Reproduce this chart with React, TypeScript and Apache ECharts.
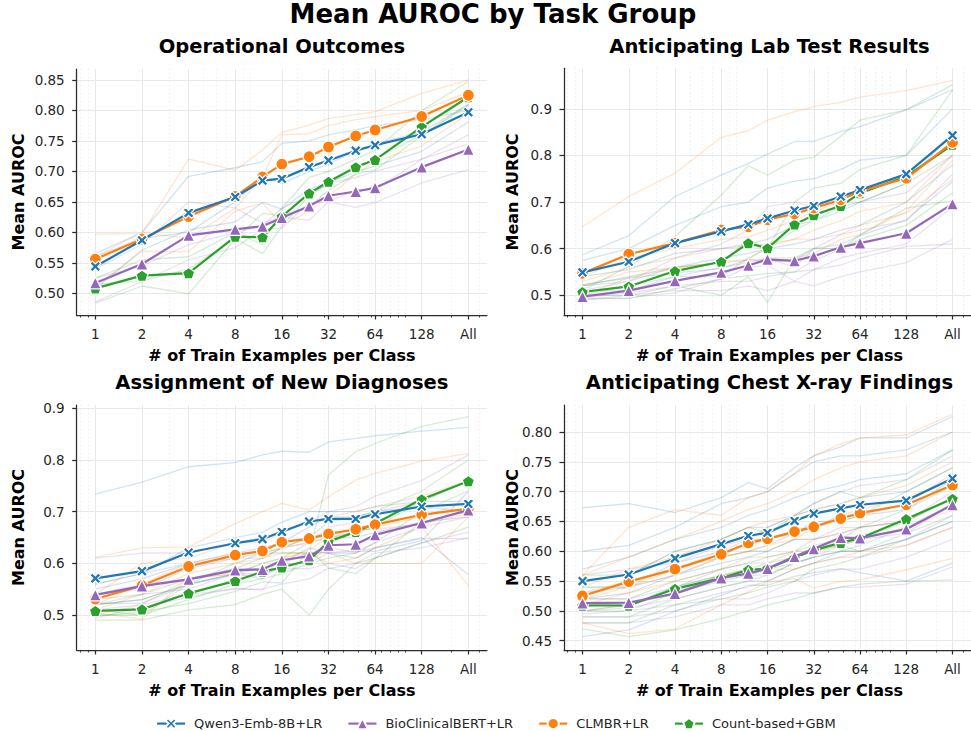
import React, { useEffect, useRef } from 'react';
import * as echarts from 'echarts';

// ---------- x axis (log2 positions; 256 is plotted as "All") ----------
const shots = [1, 2, 4, 8, 12, 16, 24, 32, 48, 64, 128, 256];
const tickShots = [1, 2, 4, 8, 16, 32, 64, 128, 256];
const tickLabels = ['1', '2', '4', '8', '16', '32', '64', '128', 'All'];
const minorShots = [0.8, 0.9, 3, 5, 6, 7, 9, 10, 20, 30, 40, 50, 60, 70, 80, 90, 100, 200, 300];

const models = ['Qwen3-Emb-8B+LR', 'BioClinicalBERT+LR', 'CLMBR+LR', 'Count-based+GBM'];
const modelColors = ['#1f77b4', '#9467bd', '#ff7f0e', '#2ca02c'];

const panelTitles = [
  'Operational Outcomes',
  'Anticipating Lab Test Results',
  'Assignment of New Diagnoses',
  'Anticipating Chest X-ray Findings',
];

// ---------- y ticks ----------
const opYTicks = [0.5, 0.55, 0.6, 0.65, 0.7, 0.75, 0.8, 0.85];
const labYTicks = [0.5, 0.6, 0.7, 0.8, 0.9];
const diagYTicks = [0.5, 0.6, 0.7, 0.8, 0.9];
const cxrYTicks = [0.45, 0.5, 0.55, 0.6, 0.65, 0.7, 0.75, 0.8];

// ---------- Operational Outcomes ----------
const opQwen = [0.544, 0.587, 0.632, 0.658, 0.685, 0.688, 0.707, 0.718, 0.734, 0.743, 0.761, 0.797];
const opBio = [0.517, 0.548, 0.595, 0.605, 0.610, 0.624, 0.643, 0.660, 0.667, 0.673, 0.707, 0.736];
const opClmbr = [0.556, 0.589, 0.626, 0.659, 0.691, 0.712, 0.724, 0.740, 0.758, 0.768, 0.790, 0.825];
const opCount = [0.508, 0.529, 0.533, 0.593, 0.592, 0.626, 0.664, 0.683, 0.707, 0.719, 0.773, 0.822];

const opQwenTasks = [
  [0.565, 0.600, 0.692, 0.706, 0.716, 0.746, 0.750, 0.760, 0.768, 0.775, 0.785, 0.800],
  [0.560, 0.590, 0.600, 0.650, 0.690, 0.680, 0.700, 0.712, 0.735, 0.745, 0.765, 0.810],
  [0.507, 0.571, 0.604, 0.617, 0.649, 0.638, 0.671, 0.682, 0.699, 0.709, 0.733, 0.781],
];
const opBioTasks = [
  [0.540, 0.580, 0.650, 0.640, 0.615, 0.625, 0.620, 0.650, 0.670, 0.670, 0.720, 0.760],
  [0.525, 0.545, 0.580, 0.600, 0.610, 0.640, 0.660, 0.680, 0.690, 0.700, 0.720, 0.745],
  [0.486, 0.519, 0.555, 0.575, 0.605, 0.607, 0.649, 0.650, 0.641, 0.649, 0.681, 0.703],
];
const opClmbrTasks = [
  [0.597, 0.598, 0.720, 0.702, 0.735, 0.764, 0.776, 0.787, 0.793, 0.798, 0.828, 0.850],
  [0.560, 0.600, 0.590, 0.640, 0.690, 0.760, 0.762, 0.775, 0.785, 0.790, 0.800, 0.830],
  [0.511, 0.569, 0.568, 0.635, 0.648, 0.612, 0.634, 0.658, 0.696, 0.716, 0.742, 0.795],
];
const opCountTasks = [
  [0.525, 0.555, 0.560, 0.600, 0.580, 0.640, 0.690, 0.700, 0.720, 0.735, 0.800, 0.848],
  [0.515, 0.520, 0.540, 0.590, 0.565, 0.610, 0.660, 0.680, 0.705, 0.720, 0.760, 0.810],
  [0.484, 0.512, 0.499, 0.589, 0.631, 0.628, 0.642, 0.669, 0.696, 0.702, 0.759, 0.808],
];

// ---------- Anticipating Lab Test Results ----------
const labQwen = [0.549, 0.572, 0.612, 0.637, 0.652, 0.665, 0.682, 0.692, 0.712, 0.726, 0.760, 0.843];
const labBio = [0.497, 0.510, 0.531, 0.549, 0.564, 0.577, 0.574, 0.584, 0.603, 0.612, 0.633, 0.696];
const labClmbr = [0.547, 0.588, 0.612, 0.640, 0.647, 0.662, 0.675, 0.687, 0.705, 0.723, 0.751, 0.828];
const labCount = [0.507, 0.519, 0.552, 0.572, 0.612, 0.601, 0.652, 0.672, 0.692, 0.719, 0.755, 0.823];

const labQwenTasks = [
  [0.587, 0.628, 0.712, 0.758, 0.783, 0.803, 0.830, 0.830, 0.851, 0.862, 0.898, 0.941],
  [0.575, 0.600, 0.650, 0.690, 0.700, 0.730, 0.745, 0.750, 0.770, 0.790, 0.800, 0.900],
  [0.540, 0.555, 0.590, 0.600, 0.610, 0.620, 0.650, 0.660, 0.690, 0.700, 0.740, 0.850],
  [0.520, 0.540, 0.560, 0.580, 0.590, 0.600, 0.610, 0.620, 0.640, 0.650, 0.700, 0.780],
  [0.523, 0.537, 0.548, 0.557, 0.577, 0.572, 0.575, 0.600, 0.609, 0.628, 0.662, 0.744],
];
const labBioTasks = [
  [0.510, 0.530, 0.580, 0.610, 0.640, 0.690, 0.700, 0.690, 0.700, 0.700, 0.720, 0.800],
  [0.500, 0.520, 0.540, 0.560, 0.570, 0.580, 0.560, 0.600, 0.630, 0.640, 0.660, 0.760],
  [0.495, 0.505, 0.520, 0.530, 0.530, 0.540, 0.550, 0.555, 0.580, 0.590, 0.610, 0.690],
  [0.490, 0.500, 0.510, 0.510, 0.520, 0.510, 0.530, 0.520, 0.540, 0.550, 0.570, 0.620],
  [0.490, 0.495, 0.505, 0.535, 0.560, 0.565, 0.530, 0.555, 0.565, 0.580, 0.605, 0.610],
];
const labClmbrTasks = [
  [0.647, 0.712, 0.762, 0.839, 0.853, 0.876, 0.894, 0.905, 0.914, 0.925, 0.939, 0.961],
  [0.540, 0.580, 0.600, 0.620, 0.625, 0.640, 0.660, 0.680, 0.700, 0.730, 0.760, 0.840],
  [0.530, 0.560, 0.580, 0.600, 0.605, 0.610, 0.620, 0.640, 0.660, 0.680, 0.700, 0.800],
  [0.520, 0.550, 0.560, 0.570, 0.575, 0.580, 0.580, 0.590, 0.620, 0.630, 0.680, 0.790],
  [0.498, 0.538, 0.558, 0.571, 0.577, 0.604, 0.621, 0.620, 0.631, 0.650, 0.676, 0.749],
];
const labCountTasks = [
  [0.511, 0.562, 0.626, 0.715, 0.778, 0.758, 0.790, 0.796, 0.841, 0.876, 0.898, 0.952],
  [0.520, 0.530, 0.560, 0.570, 0.620, 0.600, 0.700, 0.730, 0.740, 0.770, 0.800, 0.940],
  [0.510, 0.510, 0.540, 0.540, 0.580, 0.600, 0.640, 0.660, 0.680, 0.700, 0.740, 0.800],
  [0.500, 0.500, 0.520, 0.500, 0.540, 0.485, 0.580, 0.600, 0.600, 0.620, 0.650, 0.720],
  [0.494, 0.493, 0.514, 0.535, 0.542, 0.547, 0.550, 0.574, 0.599, 0.629, 0.687, 0.703],
];

// ---------- Assignment of New Diagnoses ----------
const diagQwen = [0.571, 0.585, 0.621, 0.639, 0.647, 0.661, 0.681, 0.686, 0.686, 0.695, 0.710, 0.715];
const diagBio = [0.539, 0.556, 0.569, 0.587, 0.588, 0.606, 0.614, 0.635, 0.637, 0.655, 0.678, 0.703];
const diagClmbr = [0.531, 0.557, 0.594, 0.616, 0.624, 0.641, 0.648, 0.657, 0.666, 0.675, 0.694, 0.706];
const diagCount = [0.508, 0.511, 0.542, 0.566, 0.584, 0.592, 0.606, 0.642, 0.661, 0.677, 0.724, 0.759];

const diagQwenTasks = [
  [0.734, 0.757, 0.787, 0.795, 0.810, 0.817, 0.815, 0.835, 0.842, 0.847, 0.856, 0.863],
  [0.560, 0.580, 0.630, 0.650, 0.660, 0.680, 0.700, 0.700, 0.700, 0.710, 0.720, 0.720],
  [0.550, 0.570, 0.600, 0.620, 0.630, 0.640, 0.670, 0.690, 0.690, 0.700, 0.710, 0.700],
  [0.540, 0.550, 0.590, 0.610, 0.620, 0.630, 0.650, 0.650, 0.650, 0.660, 0.680, 0.690],
  [0.520, 0.530, 0.560, 0.580, 0.570, 0.600, 0.630, 0.620, 0.610, 0.630, 0.650, 0.578],
  [0.522, 0.523, 0.559, 0.579, 0.592, 0.599, 0.621, 0.621, 0.624, 0.623, 0.644, 0.739],
];
const diagBioTasks = [
  [0.610, 0.620, 0.620, 0.640, 0.650, 0.660, 0.680, 0.700, 0.710, 0.730, 0.760, 0.810],
  [0.560, 0.580, 0.600, 0.610, 0.610, 0.630, 0.640, 0.670, 0.680, 0.700, 0.720, 0.760],
  [0.540, 0.560, 0.570, 0.590, 0.590, 0.600, 0.600, 0.620, 0.620, 0.640, 0.670, 0.690],
  [0.520, 0.540, 0.550, 0.580, 0.580, 0.590, 0.590, 0.600, 0.590, 0.610, 0.640, 0.660],
  [0.510, 0.520, 0.540, 0.550, 0.550, 0.560, 0.570, 0.590, 0.600, 0.620, 0.630, 0.650],
  [0.494, 0.516, 0.534, 0.552, 0.548, 0.596, 0.604, 0.630, 0.622, 0.630, 0.648, 0.648],
];
const diagClmbrTasks = [
  [0.612, 0.630, 0.632, 0.677, 0.700, 0.716, 0.703, 0.729, 0.761, 0.774, 0.798, 0.813],
  [0.540, 0.600, 0.610, 0.640, 0.640, 0.660, 0.680, 0.690, 0.700, 0.710, 0.730, 0.760],
  [0.520, 0.560, 0.600, 0.620, 0.620, 0.630, 0.640, 0.650, 0.660, 0.670, 0.690, 0.720],
  [0.510, 0.540, 0.580, 0.600, 0.610, 0.620, 0.620, 0.620, 0.600, 0.600, 0.600, 0.690],
  [0.500, 0.520, 0.570, 0.580, 0.600, 0.610, 0.620, 0.600, 0.610, 0.630, 0.670, 0.557],
  [0.504, 0.492, 0.572, 0.579, 0.574, 0.610, 0.625, 0.653, 0.665, 0.666, 0.676, 0.696],
];
const diagCountTasks = [
  [0.520, 0.530, 0.560, 0.600, 0.620, 0.620, 0.620, 0.771, 0.816, 0.832, 0.865, 0.884],
  [0.530, 0.540, 0.570, 0.590, 0.610, 0.630, 0.650, 0.680, 0.690, 0.700, 0.740, 0.800],
  [0.510, 0.500, 0.560, 0.580, 0.600, 0.610, 0.640, 0.650, 0.660, 0.670, 0.720, 0.760],
  [0.500, 0.500, 0.530, 0.560, 0.570, 0.580, 0.600, 0.610, 0.620, 0.640, 0.700, 0.740],
  [0.490, 0.490, 0.510, 0.520, 0.540, 0.550, 0.500, 0.550, 0.600, 0.610, 0.680, 0.700],
  [0.498, 0.506, 0.522, 0.546, 0.564, 0.562, 0.626, 0.591, 0.580, 0.610, 0.639, 0.670],
];

// ---------- Anticipating Chest X-ray Findings ----------
const cxrQwen = [0.550, 0.561, 0.588, 0.612, 0.626, 0.631, 0.651, 0.663, 0.672, 0.678, 0.685, 0.722];
const cxrBio = [0.513, 0.514, 0.529, 0.555, 0.563, 0.571, 0.591, 0.604, 0.623, 0.622, 0.637, 0.678];
const cxrClmbr = [0.525, 0.549, 0.570, 0.595, 0.614, 0.621, 0.633, 0.641, 0.655, 0.664, 0.678, 0.711];
const cxrCount = [0.509, 0.509, 0.537, 0.555, 0.569, 0.571, 0.589, 0.602, 0.614, 0.622, 0.654, 0.688];

const cxrQwenTasks = [
  [0.673, 0.680, 0.665, 0.690, 0.715, 0.705, 0.740, 0.760, 0.775, 0.790, 0.790, 0.826],
  [0.600, 0.610, 0.640, 0.680, 0.690, 0.700, 0.730, 0.750, 0.760, 0.760, 0.770, 0.800],
  [0.570, 0.590, 0.620, 0.640, 0.660, 0.670, 0.690, 0.700, 0.710, 0.720, 0.730, 0.770],
  [0.550, 0.560, 0.600, 0.620, 0.640, 0.640, 0.660, 0.670, 0.680, 0.690, 0.700, 0.740],
  [0.530, 0.540, 0.580, 0.600, 0.610, 0.620, 0.630, 0.650, 0.650, 0.660, 0.670, 0.720],
  [0.520, 0.530, 0.560, 0.580, 0.590, 0.600, 0.620, 0.620, 0.630, 0.640, 0.650, 0.690],
  [0.500, 0.510, 0.540, 0.560, 0.560, 0.570, 0.580, 0.590, 0.600, 0.600, 0.620, 0.650],
  [0.457, 0.468, 0.499, 0.526, 0.543, 0.543, 0.558, 0.564, 0.571, 0.564, 0.550, 0.580],
];
const cxrBioTasks = [
  [0.560, 0.570, 0.580, 0.610, 0.620, 0.640, 0.660, 0.680, 0.700, 0.710, 0.720, 0.760],
  [0.540, 0.540, 0.560, 0.590, 0.600, 0.610, 0.630, 0.640, 0.660, 0.660, 0.680, 0.730],
  [0.520, 0.520, 0.540, 0.570, 0.580, 0.580, 0.600, 0.620, 0.640, 0.640, 0.650, 0.700],
  [0.510, 0.510, 0.530, 0.560, 0.560, 0.570, 0.590, 0.600, 0.620, 0.620, 0.630, 0.680],
  [0.500, 0.505, 0.520, 0.540, 0.550, 0.560, 0.580, 0.590, 0.610, 0.600, 0.620, 0.660],
  [0.495, 0.500, 0.510, 0.530, 0.540, 0.550, 0.570, 0.580, 0.590, 0.590, 0.610, 0.640],
  [0.490, 0.490, 0.500, 0.520, 0.520, 0.530, 0.550, 0.560, 0.570, 0.570, 0.590, 0.620],
  [0.480, 0.480, 0.490, 0.510, 0.510, 0.520, 0.530, 0.530, 0.540, 0.540, 0.545, 0.574],
];
const cxrClmbrTasks = [
  [0.560, 0.640, 0.670, 0.660, 0.690, 0.700, 0.730, 0.760, 0.780, 0.790, 0.795, 0.830],
  [0.560, 0.590, 0.620, 0.650, 0.670, 0.680, 0.700, 0.720, 0.740, 0.750, 0.760, 0.800],
  [0.540, 0.570, 0.590, 0.620, 0.640, 0.650, 0.660, 0.670, 0.680, 0.690, 0.710, 0.750],
  [0.530, 0.550, 0.570, 0.600, 0.620, 0.620, 0.630, 0.640, 0.660, 0.670, 0.690, 0.720],
  [0.520, 0.540, 0.560, 0.590, 0.600, 0.610, 0.620, 0.620, 0.630, 0.640, 0.650, 0.690],
  [0.510, 0.530, 0.550, 0.570, 0.590, 0.590, 0.600, 0.600, 0.610, 0.620, 0.640, 0.670],
  [0.500, 0.510, 0.530, 0.560, 0.570, 0.570, 0.570, 0.580, 0.590, 0.600, 0.610, 0.640],
  [0.480, 0.462, 0.470, 0.510, 0.532, 0.548, 0.554, 0.538, 0.550, 0.552, 0.569, 0.588],
];
const cxrCountTasks = [
  [0.560, 0.560, 0.600, 0.620, 0.640, 0.630, 0.660, 0.680, 0.700, 0.690, 0.720, 0.770],
  [0.540, 0.540, 0.570, 0.590, 0.600, 0.600, 0.620, 0.640, 0.650, 0.660, 0.700, 0.740],
  [0.520, 0.520, 0.550, 0.570, 0.580, 0.590, 0.600, 0.610, 0.620, 0.640, 0.670, 0.710],
  [0.510, 0.510, 0.540, 0.560, 0.570, 0.580, 0.590, 0.600, 0.610, 0.620, 0.650, 0.690],
  [0.500, 0.500, 0.530, 0.550, 0.560, 0.560, 0.580, 0.590, 0.600, 0.610, 0.640, 0.680],
  [0.490, 0.490, 0.520, 0.540, 0.550, 0.550, 0.570, 0.580, 0.600, 0.600, 0.630, 0.660],
  [0.480, 0.480, 0.510, 0.520, 0.530, 0.540, 0.550, 0.570, 0.580, 0.590, 0.620, 0.650],
  [0.470, 0.457, 0.468, 0.487, 0.500, 0.510, 0.520, 0.530, 0.540, 0.545, 0.550, 0.552],
];

const FONT = '"DejaVu Sans", "Liberation Sans", sans-serif';
const TEXT = '#262626';
const AXIS = '#2b2b2b';
const GRIDC = '#e8e8e8';

const symX = 'path://M-1,-0.55L-0.55,-1L0,-0.45L0.55,-1L1,-0.55L0.45,0L1,0.55L0.55,1L0,0.45L-0.55,1L-1,0.55L-0.45,0Z';
const symPentagon = 'path://M0,-1L0.951,-0.309L0.588,0.809L-0.588,0.809L-0.951,-0.309Z';
const modelSymbols = [symX, 'triangle', 'circle', symPentagon];
const modelSymbolSizes = [11, 12, 12, 12];

export default function App() {
  const ref = useRef<HTMLDivElement>(null);

  useEffect(() => {
    document.body.style.margin = '0';
    if (!ref.current) return;
    const chart = echarts.init(ref.current, null, { renderer: 'svg' });

    const panels = [
      { means: [opQwen, opBio, opClmbr, opCount], tasks: [opQwenTasks, opBioTasks, opClmbrTasks, opCountTasks], yTicks: opYTicks, yMin: 0.4644, yMax: 0.868, dec: 2,
        rect: { left: 76.7, top: 69, width: 410.3, height: 246 } },
      { means: [labQwen, labBio, labClmbr, labCount], tasks: [labQwenTasks, labBioTasks, labClmbrTasks, labCountTasks], yTicks: labYTicks, yMin: 0.4577, yMax: 0.987, dec: 1,
        rect: { left: 564, top: 68.3, width: 411, height: 246.7 } },
      { means: [diagQwen, diagBio, diagClmbr, diagCount], tasks: [diagQwenTasks, diagBioTasks, diagClmbrTasks, diagCountTasks], yTicks: diagYTicks, yMin: 0.4323, yMax: 0.9065, dec: 1,
        rect: { left: 76.7, top: 405, width: 410.3, height: 245 } },
      { means: [cxrQwen, cxrBio, cxrClmbr, cxrCount], tasks: [cxrQwenTasks, cxrBioTasks, cxrClmbrTasks, cxrCountTasks], yTicks: cxrYTicks, yMin: 0.4344, yMax: 0.8453, dec: 2,
        rect: { left: 564, top: 405, width: 411, height: 245 } },
    ];

    const majorPos = tickShots.map((s) => Math.log2(s));
    const minorPos = minorShots.map((s) => Math.log2(s));
    const xPos = shots.map((s) => Math.log2(s));

    const grids: any[] = [];
    const xAxes: any[] = [];
    const yAxes: any[] = [];
    const series: any[] = [];
    const graphics: any[] = [];

    panels.forEach((p, pi) => {
      grids.push({ ...p.rect, containLabel: false });
      xAxes.push({
        gridIndex: pi, type: 'value', min: -0.4, max: 8.4, position: 'bottom',
        axisLine: { show: true, onZero: false, lineStyle: { color: AXIS, width: 1.25 } },
        axisTick: { show: true, customValues: majorPos, length: 4.5, lineStyle: { color: AXIS, width: 1.25 } },
        axisLabel: {
          show: true, customValues: majorPos, margin: 12, color: TEXT, fontSize: 13.5, fontFamily: FONT,
          formatter: (v: number) => {
            const i = majorPos.findIndex((m) => Math.abs(m - v) < 1e-6);
            return i >= 0 ? tickLabels[i] : '';
          },
        },
        splitLine: { show: true, lineStyle: { color: GRIDC, width: 1 } },
      });
      xAxes.push({
        gridIndex: pi, type: 'value', min: -0.4, max: 8.4, position: 'bottom',
        axisLine: { show: false },
        axisTick: { show: true, customValues: minorPos, length: 2.5, lineStyle: { color: AXIS, width: 0.9 } },
        axisLabel: { show: false },
        splitLine: { show: true, lineStyle: { color: '#e2e2e2', width: 0.8, type: [1, 3] } },
      });
      yAxes.push({
        gridIndex: pi, type: 'value', min: p.yMin, max: p.yMax,
        axisLine: { show: true, onZero: false, lineStyle: { color: AXIS, width: 1.25 } },
        axisTick: { show: true, customValues: p.yTicks, length: 4.5, lineStyle: { color: AXIS, width: 1.25 } },
        axisLabel: {
          show: true, customValues: p.yTicks, margin: 12, color: TEXT, fontSize: 13.5, fontFamily: FONT,
          formatter: (v: number) => v.toFixed(p.dec),
        },
        splitLine: { show: true, lineStyle: { color: GRIDC, width: 1 } },
      });

      // faint per-task lines
      p.tasks.forEach((taskList, mi) => {
        taskList.forEach((vals, ti) => {
          series.push({
            type: 'line', name: `${models[mi]} task ${ti + 1}`, xAxisIndex: 2 * pi, yAxisIndex: pi,
            data: vals.map((v, i) => [xPos[i], v]),
            showSymbol: false, symbol: 'none', silent: true, z: 1,
            lineStyle: { color: modelColors[mi], width: 1.3, opacity: 0.2 },
            emphasis: { disabled: true },
          });
        });
      });

      // mean lines: drawn bottom-to-top as Count, CLMBR, Bio, Qwen
      [3, 2, 1, 0].forEach((mi, order) => {
        series.push({
          type: 'line', name: models[mi], xAxisIndex: 2 * pi, yAxisIndex: pi,
          data: p.means[mi].map((v, i) => [xPos[i], v]),
          symbol: modelSymbols[mi], symbolSize: modelSymbolSizes[mi], symbolKeepAspect: true,
          showSymbol: true, silent: true, z: 3 + order,
          lineStyle: { color: modelColors[mi], width: 2.2 },
          itemStyle: { color: modelColors[mi], borderColor: '#ffffff', borderWidth: 1.2 },
          emphasis: { disabled: true },
        });
      });
    });

    // titles and axis names
    graphics.push({
      type: 'text', x: 493, y: 14,
      style: { text: 'Mean AUROC by Task Group', font: `bold 26px ${FONT}`, fill: '#000', align: 'center', verticalAlign: 'middle', textAlign: 'center', textVerticalAlign: 'middle' },
    });
    const centers = [
      { cx: 281.9, ty: 46, xy: 355, yx: 18.3, cy: 192 },
      { cx: 769.5, ty: 46, xy: 355, yx: 512, cy: 192 },
      { cx: 281.9, ty: 382, xy: 690, yx: 18.3, cy: 527.5 },
      { cx: 769.5, ty: 382, xy: 690, yx: 512, cy: 527.5 },
    ];
    centers.forEach((c, i) => {
      graphics.push({
        type: 'text', x: c.cx, y: c.ty,
        style: { text: panelTitles[i], font: `bold 19.5px ${FONT}`, fill: '#000', align: 'center', verticalAlign: 'middle', textAlign: 'center', textVerticalAlign: 'middle' },
      });
      graphics.push({
        type: 'text', x: c.cx, y: c.xy,
        style: { text: '# of Train Examples per Class', font: `bold 16px ${FONT}`, fill: '#000', align: 'center', verticalAlign: 'middle', textAlign: 'center', textVerticalAlign: 'middle' },
      });
      graphics.push({
        type: 'text', x: c.yx, y: c.cy, rotation: Math.PI / 2,
        style: { text: 'Mean AUROC', font: `bold 16px ${FONT}`, fill: '#000', align: 'center', verticalAlign: 'middle', textAlign: 'center', textVerticalAlign: 'middle' },
      });
    });

    chart.setOption({
      animation: false,
      backgroundColor: '#ffffff',
      grid: grids,
      xAxis: xAxes,
      yAxis: yAxes,
      series,
      graphic: graphics,
      legend: {
        data: models, left: 151, top: 712, itemWidth: 28, itemHeight: 14, itemGap: 25,
        selectedMode: false,
        lineStyle: { width: 2.2 },
        textStyle: { fontSize: 13, fontFamily: FONT, color: TEXT, padding: [0, 0, 0, 4] },
      },
    });

    return () => chart.dispose();
  }, []);

  return <div ref={ref} style={{ position: 'absolute', left: 0, top: 0, width: 971, height: 731 }} />;
}
